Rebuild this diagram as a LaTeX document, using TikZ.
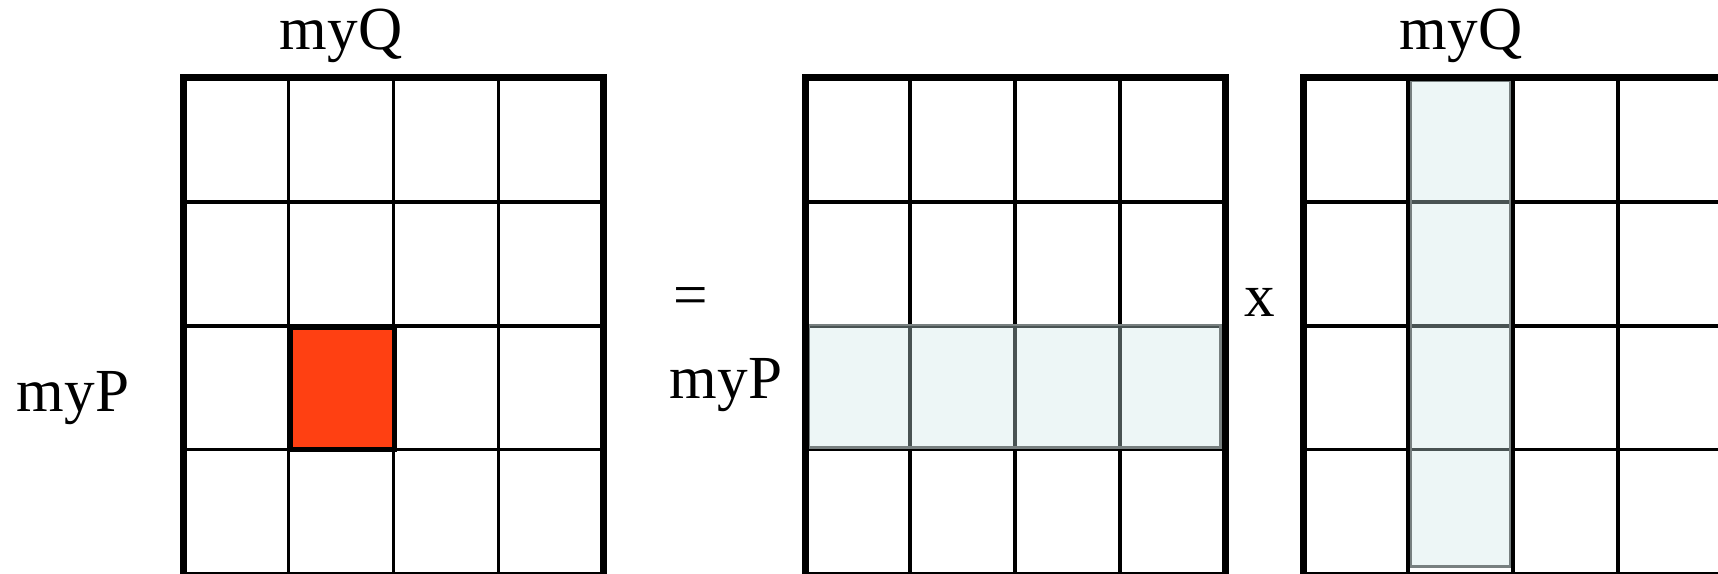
\documentclass[tikz,border=0pt]{standalone}
\usepackage{fontspec}
\setmainfont{Liberation Serif}
\definecolor{cellred}{RGB}{255,64,18}
\definecolor{hlfill}{RGB}{205,231,231}
\definecolor{hledge}{RGB}{120,128,128}
\begin{document}
\begin{tikzpicture}[x=0.01cm,y=-0.01cm,
  thinline/.style={line width=0.033cm,black},
  thickline/.style={line width=0.07cm,black},
  lbl/.style={inner sep=0pt,anchor=base,font=\fontsize{17.4}{20}\selectfont},
  hl/.style={fill=hlfill,fill opacity=0.36,draw=hledge,line width=0.022cm},
  hotcell/.style={fill=cellred,draw=black,line width=0.05cm}]
\useasboundingbox (0,0) rectangle (1718,574);
\clip (0,0) rectangle (1718,574);
% grid lines
\foreach \L in {183.5,805,1303}{
  \foreach \i in {1,2,3}
    \draw[thinline] ({\L+\i*105},77.5) -- ({\L+\i*105},575.5);
  \foreach \yy in {202,326,449.5}
    \draw[thinline] (\L,\yy) -- ({\L+420},\yy);
}
% highlighted row and column
\draw[hl] (808.5,325) rectangle (1220.5,447.5);
\draw[hl] (1411,81) rectangle (1510,566.5);
% selected cell
\draw[hotcell] (290.5,327.5) rectangle (394,449.5);
% outer borders
\foreach \L in {183.5,805,1303}
  \draw[thickline] (\L,77.5) rectangle ({\L+420},575.5);
% labels
\node[lbl] (q1) at (341,50) {myQ};
\node[lbl] (q2) at (1461,50) {myQ};
\node[lbl] (p1) at (73,412) {myP};
\node[lbl] (p2) at (726,399) {myP};
\node[lbl] (eq) at (691,316) {=};
\node[lbl] (times) at (1260,317) {x};
\end{tikzpicture}
\end{document}
